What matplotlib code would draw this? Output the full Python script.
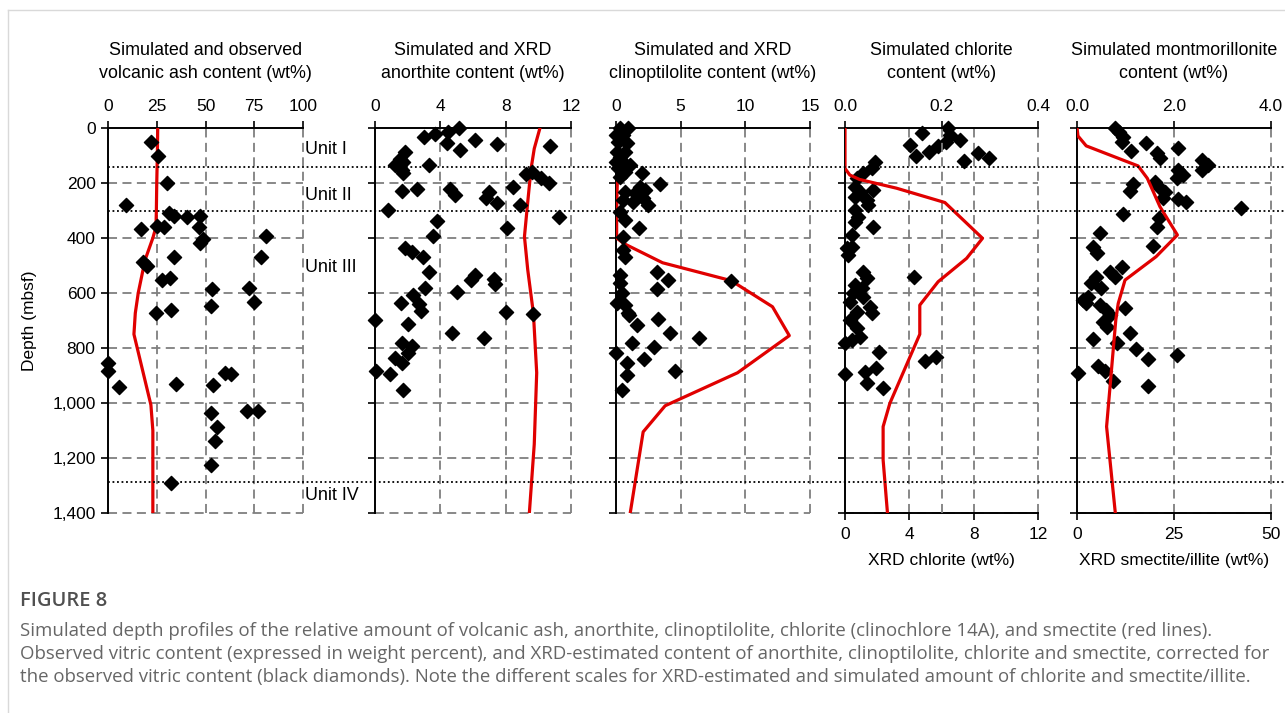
#!/usr/bin/env python3
"""Depth profiles of simulated vs observed mineral content (Figure 8 style)."""

import matplotlib

matplotlib.use("Agg")

import matplotlib.pyplot as plt
import matplotlib.transforms as mtransforms
from matplotlib.lines import Line2D

W, H = 1285, 713

# ---- volcanic ash: observed (diamonds) and simulated (red line) ----
ash_obs_val = [22, 25.6, 30, 9, 31.5, 34, 40.5, 47, 17, 25, 28.7, 46.7, 48.7, 47, 81,
               78.5, 18, 20, 34, 27.5, 31.8, 53.3, 72.3, 74.9, 52.8, 24.6, 32.3,
               0, 0, 5.6, 34.9, 53.8, 60, 63, 52.8, 71.3, 77, 55.7, 54.9, 52.8, 32.3]
ash_obs_depth = [51, 102, 200, 280, 309, 320, 323, 320, 367, 356, 360, 360, 403, 418, 393,
                 469, 487, 502, 469, 553, 545, 586, 582, 632, 647, 673, 662,
                 855, 884, 942, 931, 935, 891, 895, 1036, 1029, 1029, 1087, 1138, 1225, 1291]
ash_sim_depth = [0, 100, 200, 300, 360, 400, 480, 600, 673, 750, 1007, 1100, 1200, 1300, 1400]
ash_sim_val = [25.5, 25.3, 25, 24.8, 24.6, 23, 19, 15.5, 14, 13.3, 22, 23, 23, 23, 23]

# ---- anorthite ----
ano_xrd_val = [3.0, 3.7, 4.45, 5.17, 4.41, 5.23, 6.11, 7.45, 10.7, 1.85, 1.54, 1.74, 1.23,
               1.64, 1.74, 3.28, 9.23, 9.64, 10.15, 10.67, 8.47, 1.64, 2.56, 4.57, 4.92,
               6.97, 6.77, 7.49, 8.88, 0.78, 11.28, 3.79, 8.06, 3.55, 1.85, 2.26, 2.93,
               3.28, 5.85, 6.15, 7.28, 7.32, 3.08, 5.03, 2.32, 1.6, 2.67, 2.81, 8.0, 9.7,
               0, 2.05, 4.72, 6.67, 1.64, 2.26, 2.05, 1.23, 1.64, 0.04, 0.92, 1.74]
ano_xrd_depth = [32, 22, 13, 1, 53, 80, 44, 58, 65, 89, 113, 124, 135,
                 153, 164, 135, 167, 159, 183, 201, 213, 229, 223, 223, 244,
                 232, 256, 271, 280, 298, 322, 337, 365, 393, 438, 450, 468,
                 522, 553, 535, 550, 567, 583, 598, 607, 635, 640, 664, 668, 676,
                 697, 713, 744, 762, 781, 793, 819, 838, 856, 882, 896, 953]
ano_sim_depth = [0, 75, 150, 270, 395, 515, 675, 890, 1150, 1400]
ano_sim_val = [10.1, 9.75, 9.55, 9.35, 9.15, 9.35, 9.7, 9.9, 9.75, 9.45]

# ---- clinoptilolite ----
cli_xrd_val = [0.3, 0.95, 0, 0.57, 0.18, 0.83, 0.05, 0.7, 0.3, 0, 0.57, 1.08, 0.18, 0.7,
               1.98, 0.3, 3.4, 1.85, 2.24, 1.47, 2.1, 2.5, 0.7, 0.57, 1.34, 0.3, 0.7, 1.8,
               0.57, 0.57, 0.7, 3.19, 4.04, 3.14, 8.88, 0.3, 0.3, 0.44, 0.05, 0.7, 0.95,
               3.27, 1.03, 1.65, 4.17, 6.43, 1.21, 2.93, 0, 2.16, 0.83, 4.56, 0.83, 0.49]
cli_xrd_depth = [1, 1, 25, 25, 50, 56, 86, 86, 104, 122, 122, 135, 147, 159,
                 165, 177, 204, 213, 225, 238, 256, 280, 232, 262, 268, 304, 335, 365,
                 395, 444, 468, 522, 553, 587, 555, 535, 565, 601, 638, 644, 674,
                 696, 680, 716, 744, 765, 783, 795, 817, 841, 856, 884, 898, 953]
cli_sim_depth = [172, 200, 300, 400, 420, 490, 555, 650, 755, 890, 1010, 1105, 1400]
cli_sim_val = [0.3, 0.1, 0.05, 0.05, 0.6, 3.6, 8.9, 12.1, 13.4, 9.4, 3.8, 2.1, 1.1]

# ---- chlorite (XRD on bottom axis, simulated on top axis) ----
chl_xrd_val = [4.76, 6.42, 6.52, 6.31, 7.14, 4.04, 5.8, 5.24, 4.41, 8.28, 8.96, 7.41,
               1.86, 1.66, 1.14, 0.73, 0.62, 1.76, 0.93, 1.35, 0.62, 1.45, 0.62, 0.83,
               0.62, 1.72, 0.42, 0.1, 0.42, 0.21, 1.14, 1.35, 4.29, 0.62, 1.04, 0.52,
               1.14, 0.31, 1.55, 0.73, 1.66, 0.31, 0.73, 0.93, 0, 0.42, 2.13, 4.97, 5.65,
               1.24, 1.93, 0, 1.39, 2.34]
chl_xrd_depth = [17, 1, 25, 50, 44, 62, 65, 86, 102, 90, 110, 120,
                 122, 147, 165, 183, 213, 225, 232, 262, 250, 280, 298, 322,
                 341, 361, 389, 438, 432, 462, 522, 547, 543, 571, 583, 601,
                 613, 632, 650, 668, 674, 698, 728, 759, 783, 771, 813, 846, 831,
                 886, 874, 896, 926, 947]
chl_sim_depth = [0, 147, 171, 187, 219, 271, 401, 474, 559, 644, 750, 1001, 1086, 1207, 1400]
chl_sim_val = [0, 0, 0.01, 0.03, 0.107, 0.207, 0.285, 0.252, 0.193, 0.155, 0.155,
               0.093, 0.079, 0.079, 0.088]

# ---- montmorillonite / smectite-illite ----
mon_xrd_val = [9.74, 10.86, 11.9, 11.47, 13.8, 17.75, 20.5, 21.37, 26.1, 32.1, 33.85, 32.1,
               26.1, 27.4, 25.7, 20.1, 21.37, 22.66, 14.47, 13.6, 22.2, 26.1, 28.1, 42.3,
               11.9, 21.2, 20.5, 6.04, 4.14, 5.17, 19.5, 11.47, 8.45, 9.74, 5.0, 3.7, 6.3,
               1.55, 2.84, 2.43, 5.86, 7.6, 12.3, 8.45, 6.7, 7.75, 13.6, 4.14, 10.2, 15.3,
               18.3, 25.8, 5.43, 7.16, 0.26, 9.3, 18.2]
mon_xrd_depth = [0, 13, 32, 50, 83, 56, 92, 110, 74, 116, 135, 153,
                 153, 171, 183, 195, 219, 232, 204, 228, 256, 259, 268, 290,
                 313, 328, 359, 381, 432, 456, 429, 504, 522, 541, 541, 565, 583,
                 625, 613, 638, 644, 662, 656, 680, 704, 725, 747, 768, 783, 805,
                 841, 825, 865, 882, 890, 919, 938]
mon_sim_depth = [0, 29, 65, 138, 183, 286, 389, 468, 553, 638, 698, 1086, 1400]
mon_sim_val = [0, 0.02, 0.19, 1.26, 1.45, 1.71, 2.07, 1.63, 0.99, 0.85, 0.8, 0.61, 0.79]

unit_bounds = [142, 302, 1287]
unit_names = ["Unit I", "Unit II", "Unit III", "Unit IV"]
unit_label_depth = [80, 247, 509, 1335]

depth_ticks = [0, 200, 400, 600, 800, 1000, 1200, 1400]
depth_labels = ["0", "200", "400", "600", "800", "1,000", "1,200", "1,400"]

titles = [
    "Simulated and observed\nvolcanic ash content (wt%)",
    "Simulated and XRD\nanorthite content (wt%)",
    "Simulated and XRD\nclinoptilolite content (wt%)",
    "Simulated chlorite\ncontent (wt%)",
    "Simulated montmorillonite\ncontent (wt%)",
]

plt.rcParams["font.family"] = ["Liberation Sans", "DejaVu Sans"]
FS = 12.5
TFS = 12.9
GRID = dict(color="#7f7f7f", ls=(0, (5, 3)), lw=1.3, zorder=0, clip_on=False)
RED = "#e00000"
MS = 52


def add_panel(fig, x0, x1, y0=128, y1=513):
    return fig.add_axes([x0 / W, 1 - y1 / H, (x1 - x0) / W, (y1 - y0) / H])


def style(ax, xlim, xticks, first=False, bottom=False):
    ax.set_ylim(1400, 0)
    ax.set_xlim(*xlim)
    ax.set_yticks(depth_ticks)
    if first:
        ax.set_yticklabels(depth_labels, fontsize=FS)
    else:
        ax.set_yticklabels([])
    ax.tick_params(axis="y", direction="out", length=5, width=1.2, pad=4)
    for s in ["top", "left", "bottom", "right"]:
        ax.spines[s].set_visible(False)
    ax.spines["left"].set_visible(True)
    ax.spines["left"].set_linewidth(1.4)
    if bottom:
        ax.spines["bottom"].set_visible(True)
        ax.spines["bottom"].set_linewidth(1.4)
        ax.xaxis.set_ticks_position("bottom")
    else:
        ax.spines["top"].set_visible(True)
        ax.spines["top"].set_linewidth(1.4)
        ax.xaxis.set_ticks_position("top")
    ax.set_xticks(xticks)
    ax.tick_params(axis="x", direction="out", length=5, width=1.2, labelsize=FS, pad=5)
    for d in depth_ticks[1:]:
        ax.axhline(d, **GRID)
    for t in xticks[1:]:
        ax.axvline(t, **GRID)
    ax.set_facecolor("none")


fig = plt.figure(figsize=(W / 100, H / 100), dpi=100)

# panel 1: ash
ax1 = add_panel(fig, 108, 303)
style(ax1, (0, 100), [0, 25, 50, 75, 100], first=True)
ax1.plot(ash_sim_val, ash_sim_depth, color=RED, lw=2.3, zorder=3)
ax1.scatter(ash_obs_val, ash_obs_depth, marker="D", s=MS, color="black", zorder=4, clip_on=False)
ax1.set_ylabel("Depth (mbsf)", fontsize=FS, labelpad=11)

# panel 2: anorthite
ax2 = add_panel(fig, 375, 571)
style(ax2, (0, 12), [0, 4, 8, 12])
ax2.plot(ano_sim_val, ano_sim_depth, color=RED, lw=2.3, zorder=3)
ax2.scatter(ano_xrd_val, ano_xrd_depth, marker="D", s=MS, color="black", zorder=4, clip_on=False)

# panel 3: clinoptilolite
ax3 = add_panel(fig, 616, 810)
style(ax3, (0, 15), [0, 5, 10, 15])
ax3.plot(cli_sim_val, cli_sim_depth, color=RED, lw=2.3, zorder=3)
ax3.scatter(cli_xrd_val, cli_xrd_depth, marker="D", s=MS, color="black", zorder=4, clip_on=False)

# panel 4: chlorite, XRD on the bottom axis, simulated on the top one
ax4 = add_panel(fig, 845, 1038)
style(ax4, (0, 12), [0, 4, 8, 12], bottom=True)
ax4.set_xlabel("XRD chlorite (wt%)", fontsize=FS, labelpad=8)
ax4.scatter(chl_xrd_val, chl_xrd_depth, marker="D", s=MS, color="black", zorder=4, clip_on=False)
ax4t = ax4.twiny()
ax4t.set_xlim(0, 0.4)
ax4t.set_xticks([0, 0.2, 0.4])
ax4t.set_xticklabels(["0.0", "0.2", "0.4"])
ax4t.tick_params(axis="x", direction="out", length=5, width=1.2, labelsize=FS, pad=5)
for s in ["left", "right", "bottom"]:
    ax4t.spines[s].set_visible(False)
ax4t.spines["top"].set_linewidth(1.4)
ax4t.axvline(0.2, **GRID)
ax4t.plot(chl_sim_val, chl_sim_depth, color=RED, lw=2.3, zorder=3)

# panel 5: montmorillonite
ax5 = add_panel(fig, 1077, 1271)
style(ax5, (0, 50), [0, 25, 50], bottom=True)
ax5.set_xlabel("XRD smectite/illite (wt%)", fontsize=FS, labelpad=8)
ax5.scatter(mon_xrd_val, mon_xrd_depth, marker="D", s=MS, color="black", zorder=4, clip_on=False)
ax5t = ax5.twiny()
ax5t.set_xlim(0, 4)
ax5t.set_xticks([0, 2, 4])
ax5t.set_xticklabels(["0.0", "2.0", "4.0"])
ax5t.tick_params(axis="x", direction="out", length=5, width=1.2, labelsize=FS, pad=5)
for s in ["left", "right", "bottom"]:
    ax5t.spines[s].set_visible(False)
ax5t.spines["top"].set_linewidth(1.4)
ax5t.plot(mon_sim_val, mon_sim_depth, color=RED, lw=2.3, zorder=3)

# panel titles
for ax, title in zip([ax1, ax2, ax3, ax4, ax5], titles):
    box = ax.get_position()
    fig.text((box.x0 + box.x1) / 2, 1 - 62 / H, title, ha="center", va="center",
             fontsize=TFS, linespacing=1.5)

# unit boundaries across all panels
blend = mtransforms.blended_transform_factory(fig.transFigure, ax1.transData)
for d in unit_bounds:
    fig.add_artist(Line2D([108 / W, 1.0], [d, d], transform=blend, color="black",
                          ls=(0, (1, 1.5)), lw=1.3, zorder=5))
ublend = mtransforms.blended_transform_factory(ax1.transAxes, ax1.transData)
for name, d in zip(unit_names, unit_label_depth):
    ax1.text(1.01, d, name, transform=ublend, ha="left", va="center", fontsize=TFS)

# page frame
fig.add_artist(Line2D([8 / W, 8 / W], [0, 1 - 10 / H], color="#d9d9d9", lw=1))
fig.add_artist(Line2D([8 / W, 1], [1 - 10 / H, 1 - 10 / H], color="#d9d9d9", lw=1))

# caption
fig.text(20 / W, 1 - 601 / H, "FIGURE 8", fontsize=14.5, color="#505050",
         family="Open Sans", va="center", fontweight="semibold")
caption = [
    "Simulated depth profiles of the relative amount of volcanic ash, anorthite, clinoptilolite, "
    "chlorite (clinochlore 14A), and smectite (red lines).",
    "Observed vitric content (expressed in weight percent), and XRD-estimated content of anorthite, "
    "clinoptilolite, chlorite and smectite, corrected for",
    "the observed vitric content (black diamonds). Note the different scales for XRD-estimated and "
    "simulated amount of chlorite and smectite/illite.",
]
for i, line in enumerate(caption):
    fig.text(20 / W, 1 - (631 + 23 * i) / H, line, fontsize=13.4, color="#666666",
             family="Open Sans", va="center")

fig.savefig("out.png", dpi=100)
